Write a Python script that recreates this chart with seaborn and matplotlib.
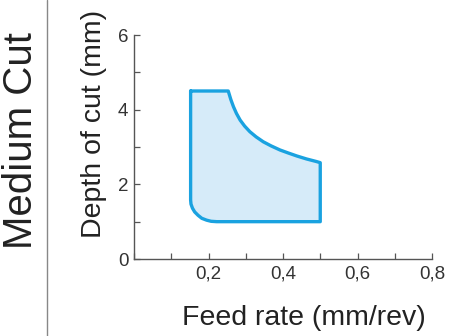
import matplotlib
matplotlib.use("Agg")
import matplotlib.pyplot as plt
from matplotlib.lines import Line2D
from matplotlib.ticker import MultipleLocator, FixedLocator
import seaborn as sns
import pandas as pd

# Boundary of the operating region (feed rate mm/rev, depth of cut mm)
feed = [0.152, 0.253, 0.260, 0.267, 0.275, 0.285, 0.297, 0.311, 0.328, 0.347,
        0.368, 0.392, 0.414, 0.437, 0.463, 0.490, 0.5,
        0.5, 0.222, 0.207, 0.195, 0.182, 0.172, 0.163, 0.157, 0.153, 0.152, 0.152]
depth = [4.5, 4.5, 4.27, 4.08, 3.9, 3.72, 3.56, 3.41, 3.27, 3.14,
         3.03, 2.92, 2.84, 2.76, 2.68, 2.61, 2.58,
         1.0, 1.0, 1.01, 1.04, 1.09, 1.17, 1.26, 1.36, 1.47, 1.58, 4.5]

x_tickvals = [0.2, 0.4, 0.6, 0.8]
x_ticklabels = ["0,2", "0,4", "0,6", "0,8"]
y_tickvals = [0, 2, 4, 6]
y_ticklabels = ["0", "2", "4", "6"]

sns.set_style("ticks")
plt.rcParams['font.family'] = ['Liberation Sans', 'DejaVu Sans']

fig = plt.figure(figsize=(4.53, 3.36), dpi=100)
ax = fig.add_axes([134/453, 1-259/336, (432-134)/453, (259-35)/336])

df = pd.DataFrame({"feed": feed, "depth": depth})
ax.fill(df["feed"], df["depth"], color="#d6ebf9", zorder=1)
sns.lineplot(data=df, x="feed", y="depth", sort=False, estimator=None,
             color="#1aa2e0", linewidth=2.4, ax=ax, zorder=2)
for l in ax.lines:
    l.set_solid_joinstyle("round")
    l.set_solid_capstyle("round")

ax.set_xlim(0, 0.8)
ax.set_ylim(0, 6)
ax.xaxis.set_major_locator(FixedLocator(x_tickvals))
ax.set_xticklabels(x_ticklabels)
ax.xaxis.set_minor_locator(MultipleLocator(0.1))
ax.yaxis.set_major_locator(FixedLocator(y_tickvals))
ax.set_yticklabels(y_ticklabels)
ax.yaxis.set_minor_locator(MultipleLocator(1))
ax.tick_params(which="both", direction="in", length=4, width=0.9, color="#555555")
ax.tick_params(axis="x", which="major", pad=5, labelsize=13.5, labelcolor="#333333")
ax.tick_params(axis="y", which="major", pad=4, labelsize=13.5, labelcolor="#333333")
for s in ["top", "right"]:
    ax.spines[s].set_visible(False)
for s in ["left", "bottom"]:
    ax.spines[s].set_color("#555555")
    ax.spines[s].set_linewidth(1.0)

ax.set_xlabel("Feed rate (mm/rev)", fontsize=20.5, color="#222222")
ax.set_ylabel("Depth of cut (mm)", fontsize=20.5, color="#222222")
ax.xaxis.set_label_coords(0.57, -0.205)
ax.yaxis.set_label_coords(-0.09, 0.605)

fig.text(21/453, 1-141/336, "Medium Cut", rotation=90, fontsize=29,
         color="#222222", ha="center", va="center")
fig.add_artist(Line2D([47/453, 47/453], [0, 1], transform=fig.transFigure,
                      color="#888888", linewidth=1.0))

fig.savefig("out.png", dpi=100)
